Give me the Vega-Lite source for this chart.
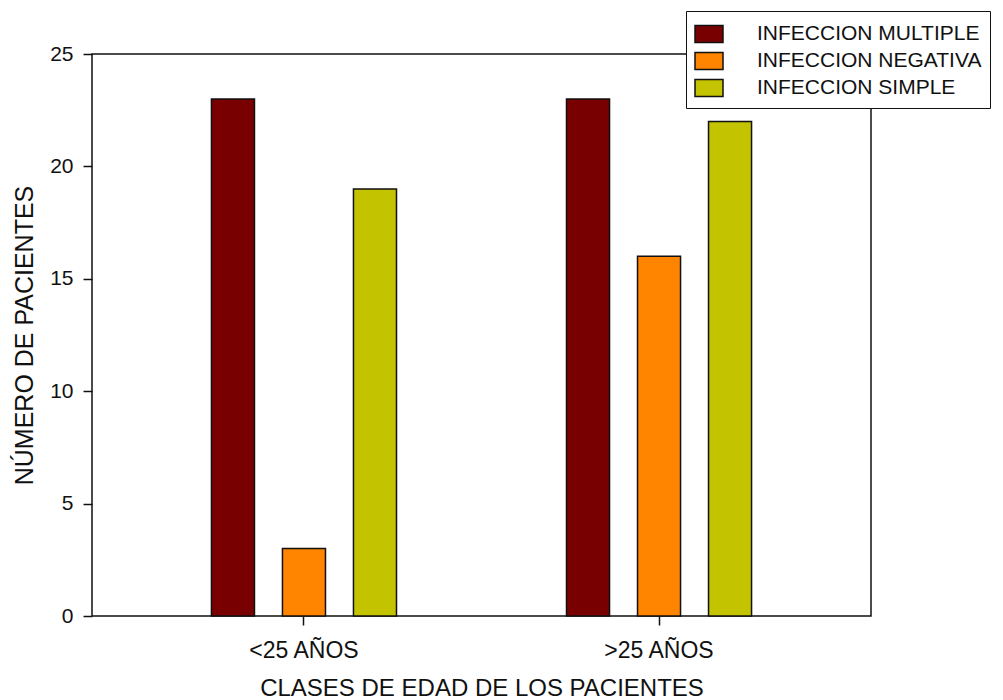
{
  "$schema": "https://vega.github.io/schema/vega-lite/v6.json",
  "autosize": "none",
  "width": 779,
  "height": 562,
  "padding": {"left": 92, "top": 54, "right": 132, "bottom": 84},
  "background": "white",
  "config": {
    "font": "Liberation Sans",
    "view": {"stroke": "#111", "strokeWidth": 1.5},
    "axis": {"grid": false, "domain": false, "tickColor": "#111", "tickWidth": 1.5, "labelColor": "#111", "titleColor": "#111", "labelFont": "Liberation Sans", "titleFont": "Liberation Sans", "titleFontWeight": "normal"}
  },
  "data": {
    "values": [
      {"edad": "<25 AÑOS", "tipo": "INFECCION MULTIPLE", "n": 23},
      {"edad": "<25 AÑOS", "tipo": "INFECCION NEGATIVA", "n": 3},
      {"edad": "<25 AÑOS", "tipo": "INFECCION SIMPLE", "n": 19},
      {"edad": ">25 AÑOS", "tipo": "INFECCION MULTIPLE", "n": 23},
      {"edad": ">25 AÑOS", "tipo": "INFECCION NEGATIVA", "n": 16},
      {"edad": ">25 AÑOS", "tipo": "INFECCION SIMPLE", "n": 22}
    ]
  },
  "mark": {"type": "bar", "stroke": "#111", "strokeWidth": 1.5},
  "encoding": {
    "x": {
      "field": "edad", "type": "nominal",
      "scale": {"paddingInner": 0, "paddingOuter": 0.097},
      "axis": {"title": "CLASES DE EDAD DE LOS PACIENTES", "labelAngle": 0, "labelFontSize": 23, "titleFontSize": 24, "tickSize": 9, "labelPadding": 14, "titlePadding": 14}
    },
    "xOffset": {
      "field": "tipo", "type": "nominal",
      "scale": {"domain": ["pad1", "INFECCION MULTIPLE", "INFECCION NEGATIVA", "INFECCION SIMPLE", "pad2"], "paddingInner": 0.394, "paddingOuter": 0.197}
    },
    "y": {
      "field": "n", "type": "quantitative",
      "scale": {"domain": [0, 25], "nice": false},
      "axis": {"title": "NÚMERO DE PACIENTES", "values": [0, 5, 10, 15, 20, 25], "labelFontSize": 21, "titleFontSize": 25, "tickSize": 9, "labelPadding": 10, "titlePadding": 12}
    },
    "color": {
      "field": "tipo", "type": "nominal",
      "scale": {"domain": ["INFECCION MULTIPLE", "INFECCION NEGATIVA", "INFECCION SIMPLE"], "range": ["#780000", "#ff8400", "#c3c300"]},
      "legend": {
        "title": null,
        "orient": "none",
        "legendX": 594,
        "legendY": -43,
        "padding": 8,
        "strokeColor": "#111",
        "fillColor": "white",
        "symbolType": "M-1,-0.6H1V0.6H-1Z",
        "symbolSize": 784,
        "symbolStrokeColor": "#111",
        "symbolStrokeWidth": 1.5,
        "symbolOpacity": 1,
        "labelFontSize": 21,
        "labelColor": "#111",
        "labelOffset": 33,
        "labelLimit": 500,
        "rowPadding": 0,
        "labelFont": "Liberation Sans"
      }
    }
  }
}
